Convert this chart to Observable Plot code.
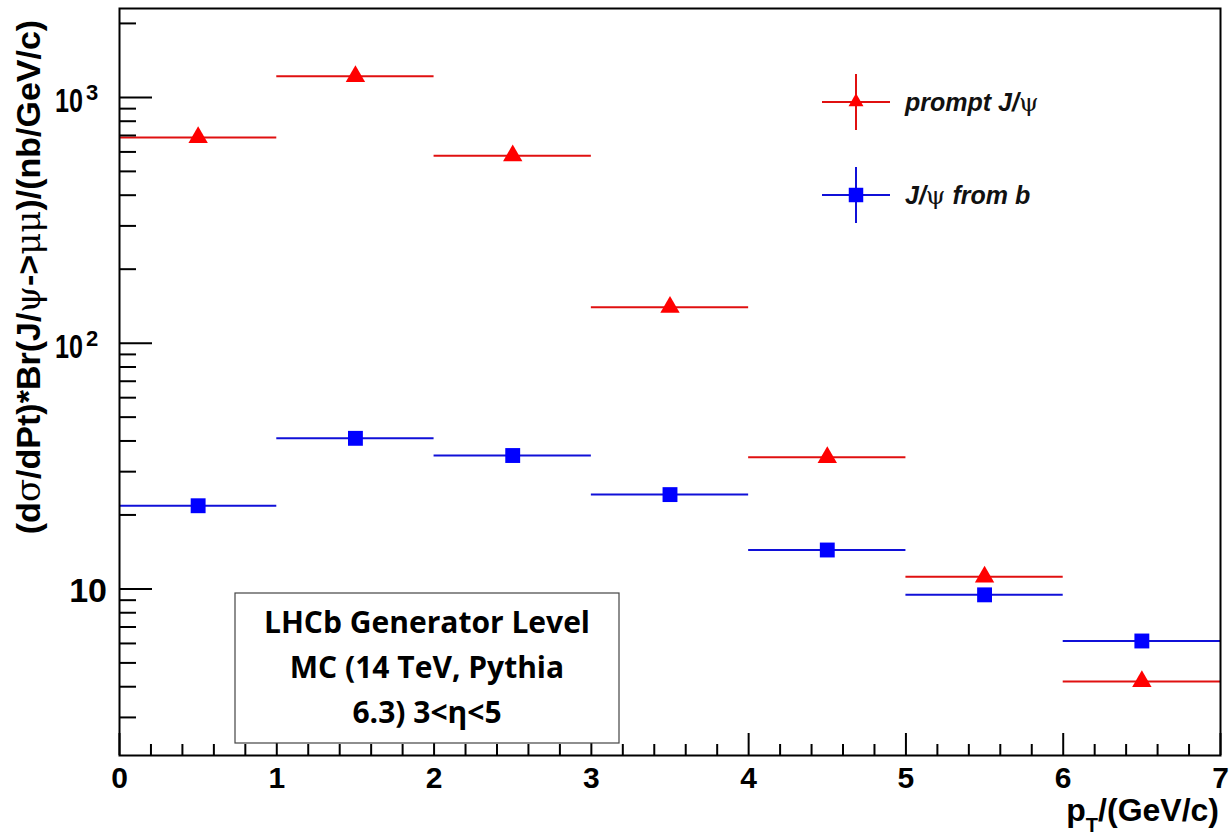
<!DOCTYPE html>
<html><head><meta charset="utf-8">
<script src="https://cdn.jsdelivr.net/npm/d3@7"></script>
<script src="https://cdn.jsdelivr.net/npm/@observablehq/plot@0.6"></script>
<style>
body{margin:0;background:#fff;}
#chart{position:relative;width:1229px;height:837px;}
</style>
</head><body><div id="chart"></div>
<script>
// ---- data ----
const binLow = [0, 1, 2, 3, 4, 5, 6];
const binHigh = [1, 2, 3, 4, 5, 6, 7];
const binCenter = [0.5, 1.5, 2.5, 3.5, 4.5, 5.5, 6.5];
const promptValues = [687, 1218, 579, 140, 34.3, 11.2, 4.2];
const fromBValues = [21.8, 41, 34.9, 24.2, 14.4, 9.46, 6.14];
const seriesNames = ["prompt J/ψ", "J/ψ from b"];
const xMajorTicks = [0, 1, 2, 3, 4, 5, 6, 7];
const xMinorTicks = d3.range(0, 7.001, 0.2).filter(v => Math.abs(v - Math.round(v)) > 1e-6);
const yMajorTicks = [10, 100, 1000];
const yMajorBase = ["10", "10", "10"];
const yMajorExp = ["", "2", "3"];
const yMinorTicks = [3,4,5,6,7,8,9,20,30,40,50,60,70,80,90,200,300,400,500,600,700,800,900,2000];
const yTitle = ["(d", "σ", "/dPt)*Br(J/", "ψ", "->", "μμ", ")/(nb/GeV/c)"];
const boxLines = ["LHCb Generator Level", "MC (14 TeV, Pythia", "6.3) 3<η<5"];

const lineColor = {[seriesNames[0]]: "#e01010", [seriesNames[1]]: "#1010d8"};
const markColor = {[seriesNames[0]]: "#ff0000", [seriesNames[1]]: "#0000ff"};

const rows = [];
binCenter.forEach((c, i) => {
  rows.push({series: seriesNames[0], x1: binLow[i], x2: binHigh[i], x: c, y: promptValues[i]});
  rows.push({series: seriesNames[1], x1: binLow[i], x2: binHigh[i], x: c, y: fromBValues[i]});
});

const axisFont = "'Liberation Sans', Arial, Helvetica, sans-serif";

const chart = Plot.plot({
  width: 1229, height: 837,
  marginLeft: 119, marginRight: 9, marginTop: 8, marginBottom: 82,
  x: {domain: [0, 7], label: null},
  y: {type: "log", domain: [2.1, 2300], label: null},
  style: {fontFamily: axisFont, background: "white", color: "black"},
  marks: [
    Plot.ruleY(rows, {x1: "x1", x2: "x2", y: "y", stroke: d => lineColor[d.series], strokeWidth: 2}),
    Plot.dot(rows.filter(d => d.series === seriesNames[0]), {x: "x", y: "y", symbol: "triangle", r: 7.2, fill: markColor[seriesNames[0]], stroke: "none"}),
    Plot.dot(rows.filter(d => d.series === seriesNames[1]), {x: "x", y: "y", symbol: "square", r: 8.4, fill: markColor[seriesNames[1]], stroke: "none"}),
    Plot.axisX({ticks: xMajorTicks, tickSize: -22, tickFormat: () => "", strokeWidth: 2, label: null}),
    Plot.axisX({ticks: xMinorTicks, tickSize: -11, tickFormat: () => "", strokeWidth: 2, label: null}),
    Plot.axisX({ticks: xMajorTicks, tickSize: 0, tickPadding: 11, tickFormat: d3.format("d"), fontSize: 30, fontWeight: "bold", label: null}),
    Plot.axisY({ticks: yMajorTicks, tickSize: -33, tickFormat: () => "", strokeWidth: 2, label: null}),
    Plot.axisY({ticks: yMinorTicks, tickSize: -17, tickFormat: () => "", strokeWidth: 2, label: null}),
    Plot.frame({stroke: "black", strokeWidth: 2})
  ]
});

document.getElementById("chart").appendChild(chart);

const svg = d3.select(chart);
const yScale = chart.scale("y");

// y tick labels with superscripts
yMajorTicks.forEach((v, i) => {
  const yy = yScale.apply(v);
  if (yMajorExp[i]) {
    svg.append("text")
      .attr("transform", `translate(55,${yy + 15}) scale(0.74,1)`)
      .attr("text-anchor", "start")
      .attr("font-family", axisFont).attr("font-weight", "bold").attr("font-size", 34).attr("fill", "black")
      .text(yMajorBase[i]);
    svg.append("text")
      .attr("x", 86).attr("y", yy + 3)
      .attr("text-anchor", "start")
      .attr("font-family", axisFont).attr("font-weight", "bold").attr("font-size", 22).attr("fill", "black")
      .text(yMajorExp[i]);
  } else {
    svg.append("text")
      .attr("x", 107).attr("y", yy + 14)
      .attr("text-anchor", "end")
      .attr("font-family", axisFont).attr("font-weight", "bold").attr("font-size", 34).attr("fill", "black")
      .text(yMajorBase[i]);
  }
});

// y title
const yt = svg.append("text")
  .attr("transform", "translate(40,277) rotate(-90)")
  .attr("text-anchor", "middle")
  .attr("font-family", axisFont).attr("font-size", 34).attr("font-weight", "bold").attr("fill", "black");
yTitle.forEach((s, i) => {
  const sp = yt.append("tspan").text(s);
  if (i % 2 === 1) sp.attr("font-weight", "normal").attr("font-family", "'DejaVu Serif', serif");
});

// x title
const xt = svg.append("text")
  .attr("x", 1219).attr("y", 821)
  .attr("text-anchor", "end")
  .attr("font-family", axisFont).attr("font-size", 32).attr("font-weight", "bold").attr("fill", "black");
xt.append("tspan").text("p");
xt.append("tspan").attr("font-size", 20).attr("dy", 11).text("T");
xt.append("tspan").attr("dy", -11).text("/(GeV/c)");

// legend
const legend = svg.append("g");
const legendRows = [
  {name: seriesNames[0], cy: 102, symbol: d3.symbolTriangle, size: 97},
  {name: seriesNames[1], cy: 195, symbol: d3.symbolSquare, size: 210}
];
legendRows.forEach(r => {
  const g = legend.append("g").attr("transform", `translate(856,${r.cy})`);
  g.append("line").attr("x1", -34).attr("x2", 34).attr("stroke", lineColor[r.name]).attr("stroke-width", 2);
  g.append("line").attr("y1", -28).attr("y2", 28).attr("stroke", lineColor[r.name]).attr("stroke-width", 2);
  g.append("path").attr("d", d3.symbol(r.symbol, r.size)()).attr("fill", markColor[r.name]);
  const t = legend.append("text")
    .attr("x", 905).attr("y", r.cy + 9)
    .attr("text-anchor", "start")
    .attr("font-family", axisFont).attr("font-size", 25).attr("font-weight", "bold").attr("font-style", "italic").attr("fill", "#111");
  const parts = r.name.split("ψ");
  t.append("tspan").text(parts[0]);
  t.append("tspan").attr("font-weight", "normal").attr("font-style", "normal").attr("font-family", "'DejaVu Serif', serif").text("ψ");
  t.append("tspan").text(parts[1]);
});

// text box
const box = svg.append("g");
box.append("rect").attr("x", 235).attr("y", 593).attr("width", 384).attr("height", 150)
  .attr("fill", "white").attr("stroke", "#444").attr("stroke-width", 1.2);
boxLines.forEach((s, i) => {
  box.append("text").attr("x", 427).attr("y", 633 + i * 45)
    .attr("text-anchor", "middle")
    .attr("font-family", "'Open Sans', sans-serif").attr("font-size", 30).attr("font-weight", "bold").attr("fill", "black")
    .text(s);
});
</script>
</body></html>
